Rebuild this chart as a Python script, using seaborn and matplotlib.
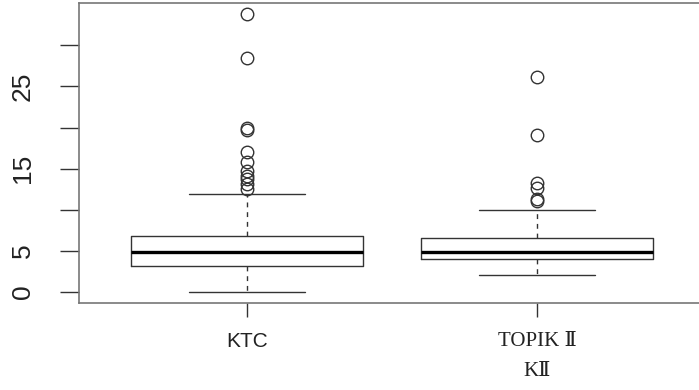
import numpy as np
import matplotlib
matplotlib.use("Agg")
import matplotlib.pyplot as plt
import seaborn as sns

# summary values
groups = ["KTC", "TOPIK Ⅱ\nKⅡ"]
q1 = [3.2, 4.0]
medians = [4.8, 4.9]
q3 = [6.85, 6.5]
whisker_low = [0.0, 2.0]
whisker_high = [11.9, 10.0]
outliers_ktc = [33.8, 28.4, 20.0, 19.7, 17.0, 15.8, 14.7, 14.1, 13.7, 13.1, 12.5]
outliers_topik = [26.2, 19.1, 13.3, 12.7, 11.3, 11.0]
yticks = [0, 5, 10, 15, 20, 25, 30]
ytick_labels = ["0", "5", "", "15", "", "25", ""]

sns.set_style("white")
plt.rcParams["font.family"] = ["Liberation Sans", "DejaVu Sans"]

stats = []
for i, fl in enumerate([outliers_ktc, outliers_topik]):
    stats.append(dict(med=medians[i], q1=q1[i], q3=q3[i],
                      whislo=whisker_low[i], whishi=whisker_high[i],
                      fliers=fl, label=groups[i]))

fig = plt.figure(figsize=(6.99, 3.9), dpi=100)
ax = fig.add_axes([79 / 699, 87 / 390, 626 / 699, 300 / 390])

ax.bxp(stats, positions=[1, 2], widths=0.8, capwidths=0.4,
       boxprops=dict(color="#333333", linewidth=1.0),
       medianprops=dict(color="black", linewidth=2.4),
       whiskerprops=dict(color="#333333", linewidth=1.0, linestyle=(0, (3.5, 3.5))),
       capprops=dict(color="#333333", linewidth=1.0),
       flierprops=dict(marker="o", markersize=9, markerfacecolor="none",
                       markeredgecolor="#333333", markeredgewidth=1.0))

ax.set_xlim(0.42, 2.58)
ax.set_ylim(-1.35, 35.15)

ax.set_yticks(yticks)
ax.set_yticklabels(ytick_labels, rotation=90, va="center", fontsize=19, color="#222222")
ax.tick_params(axis="y", length=14, width=1, color="#333333", pad=18, left=True)
ax.tick_params(axis="x", length=10, width=1, color="#333333", pad=11, bottom=True)
ax.set_xticks([1, 2])
ax.set_xticklabels(groups, color="#222222")
fonts = [["Liberation Sans", "DejaVu Sans"], ["Liberation Serif", "DejaVu Serif"]]
for lab, fam in zip(ax.get_xticklabels(), fonts):
    lab.set_fontfamily(fam)
    lab.set_fontsize(15)
    lab.set_linespacing(1.75)

for s in ax.spines.values():
    s.set_color("#777777")
    s.set_linewidth(1.2)

fig.savefig("out.png", dpi=100)
